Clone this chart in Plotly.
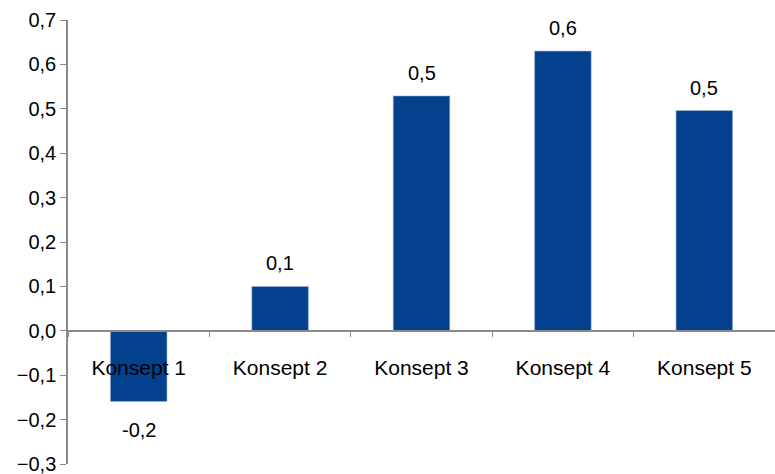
import plotly.graph_objects as go

categories = ["Konsept 1", "Konsept 2", "Konsept 3", "Konsept 4", "Konsept 5"]
values = [-0.159, 0.100, 0.529, 0.630, 0.496]
y_ticks = [-0.3, -0.2, -0.1, 0.0, 0.1, 0.2, 0.3, 0.4, 0.5, 0.6, 0.7]

BAR = "#03418F"
AX = "#8A8A8A"
FONT = "Liberation Sans, Arial, sans-serif"
FS = 20

fig = go.Figure()
fig.add_trace(go.Bar(
    x=categories, y=values, width=0.4,
    marker=dict(color=BAR, line=dict(color="#9fb3d6", width=0.6)),
    hoverinfo="skip",
))

for c, v in zip(categories, values):
    fig.add_annotation(
        x=c, y=v, xref="x", yref="y",
        text=f"{v:.1f}".replace(".", ","),
        showarrow=False, yanchor="middle",
        yshift=23 if v >= 0 else -29,
        font=dict(family=FONT, size=FS, color="#000"),
    )

fig.update_layout(
    width=775, height=474,
    margin=dict(l=68, r=0, t=20, b=10),
    paper_bgcolor="white", plot_bgcolor="white",
    showlegend=False,
    separators=",.",
    font=dict(family=FONT, size=FS, color="#000"),
    xaxis=dict(
        range=[-0.5, 4.5], anchor="free", position=0.3,
        showline=True, linecolor=AX, linewidth=2,
        ticks="outside", tickson="boundaries", ticklen=5, tickcolor=AX, tickwidth=1,
        ticklabelstandoff=18,
        showgrid=False, zeroline=False,
        tickfont=dict(family=FONT, size=21, color="#000"),
    ),
    yaxis=dict(
        range=[-0.3, 0.7], tickvals=y_ticks, tickformat=".1f",
        showline=True, linecolor=AX, linewidth=1.5,
        ticks="outside", ticklen=6, tickcolor=AX, tickwidth=1,
        ticklabeloverflow="allow",
        showgrid=False, zeroline=False,
        tickfont=dict(family=FONT, size=FS, color="#000"),
    ),
)

fig.write_html("out.html")
